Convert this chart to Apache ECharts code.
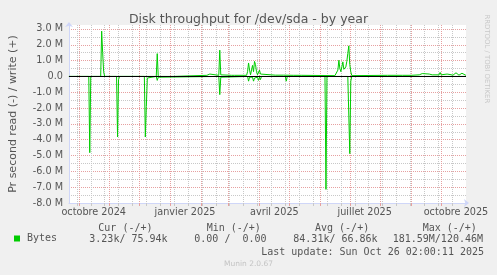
<!DOCTYPE html>
<html><head><meta charset="utf-8">
<script src="https://cdn.jsdelivr.net/npm/echarts@6/dist/echarts.min.js"></script>
<style>html,body{margin:0;padding:0;background:#f0f0f0;}#c{width:497px;height:275px;}</style>
</head><body><div id="c"></div>
<script>
const chartTitle = 'Disk throughput for /dev/sda - by year';
const yAxisTitle = 'Pr second read (-) / write (+)';
const watermark = 'RRDTOOL / TOBI OETIKER';
const footer = 'Munin 2.0.67';
const rangeStart = '2024-09-21T02:00:00Z';
const rangeEnd = '2025-10-26T02:00:00Z';
const frMonths = ['janvier','février','mars','avril','mai','juin','juillet','août','septembre','octobre','novembre','décembre'];
const xLabelDates = ['2024-10-16','2025-01-16','2025-04-16','2025-07-16','2025-10-16'];
const monthStarts = ['2024-10-01','2024-11-01','2024-12-01','2025-01-01','2025-02-01','2025-03-01','2025-04-01','2025-05-01','2025-06-01','2025-07-01','2025-08-01','2025-09-01','2025-10-01'];
const biweeklyLines = ['2024-09-29','2024-10-13','2024-10-27','2024-11-10','2024-11-24','2024-12-08','2024-12-22','2025-01-05','2025-01-19','2025-02-02','2025-02-16','2025-03-02','2025-03-16','2025-03-30','2025-04-13','2025-04-27','2025-05-11','2025-05-25','2025-06-08','2025-06-22','2025-07-06','2025-07-20','2025-08-03','2025-08-17','2025-08-31','2025-09-14','2025-09-28','2025-10-12'];

// write (+) in M bytes/s
const writeDates = ['2024-09-21','2024-10-23','2024-10-24','2024-10-25','2024-10-26','2024-10-27','2024-12-18','2024-12-19','2024-12-20','2025-01-04','2025-01-05','2025-02-07','2025-02-08','2025-02-09','2025-02-10','2025-02-11','2025-02-19','2025-02-20','2025-02-21','2025-02-22','2025-03-04','2025-03-05','2025-03-06','2025-03-07','2025-03-19','2025-03-20','2025-03-21','2025-03-22','2025-03-23','2025-03-24','2025-03-25','2025-03-26','2025-03-27','2025-03-28','2025-03-29','2025-03-30','2025-03-31','2025-04-01','2025-04-02','2025-04-03','2025-04-17','2025-04-18','2025-04-19','2025-04-25','2025-04-27','2025-05-05','2025-05-13','2025-06-16','2025-06-17','2025-06-18','2025-06-19','2025-06-20','2025-06-21','2025-06-22','2025-06-23','2025-06-24','2025-06-25','2025-06-26','2025-06-27','2025-06-28','2025-06-29','2025-06-30','2025-07-01','2025-07-02','2025-07-03','2025-08-08','2025-08-23','2025-09-01','2025-09-02','2025-09-09','2025-09-11','2025-09-12','2025-09-13','2025-09-14','2025-09-19','2025-09-22','2025-09-29','2025-09-30','2025-10-01','2025-10-07','2025-10-10','2025-10-13','2025-10-16','2025-10-19','2025-10-22','2025-10-23','2025-10-24','2025-10-26'];
const writeMB = [0,0,2.86,1.5,0.3,0,0,1.44,0,0,0.07,0.07,0.15,0.09,0.15,0.07,0.07,1.66,0.1,0.07,0.07,0.15,0.12,0.07,0.07,0.3,0.85,0.4,0.1,0.2,0.7,0.3,0.95,0.75,0.3,0.1,0.2,0.4,0.15,0.08,0.08,0.17,0.08,0.08,0.04,0.07,0.07,0.05,0.06,0.1,0.4,1.02,0.5,0.3,0.6,0.92,0.45,0.35,0.6,0.95,1.45,1.93,0.75,0.3,0.05,0.07,0.07,0.07,0.1,0.1,0.22,0.18,0.2,0.1,0.15,0.1,0.1,0.25,0.1,0.15,0.12,0.08,0.23,0.08,0.2,0.18,0.08,0.07];

// read (-) in M bytes/s
const readDates = ['2024-09-21','2024-10-11','2024-10-12','2024-10-13','2024-11-08','2024-11-09','2024-11-10','2024-11-11','2024-12-06','2024-12-07','2024-12-08','2024-12-09','2024-12-10','2024-12-18','2024-12-19','2024-12-20','2024-12-21','2025-02-19','2025-02-20','2025-02-21','2025-02-22','2025-03-20','2025-03-21','2025-03-22','2025-03-23','2025-03-25','2025-03-26','2025-03-27','2025-03-28','2025-03-30','2025-03-31','2025-04-01','2025-04-02','2025-04-03','2025-04-27','2025-04-28','2025-04-29','2025-06-06','2025-06-07','2025-06-08','2025-06-29','2025-06-30','2025-07-01','2025-07-02','2025-07-03','2025-09-29','2025-09-30','2025-10-01','2025-10-26'];
const readMB = [0,0,4.82,0,0,3.83,0.2,0,0,3.83,1.9,0.1,0,0,0.25,0.05,0,0,1.15,0.05,0,0,0.3,0.05,0,0.05,0.3,0.1,0.02,0.05,0.25,0.05,0.2,0,0,0.3,0,0,7.14,0,0,0.1,4.88,0.3,0,0,0.12,0,0];

const legendHeaders = ['Cur (-/+)','Min (-/+)','Avg (-/+)','Max (-/+)'];
const legendValues = ['3.23k/ 75.94k','0.00 /  0.00','84.31k/ 66.86k','181.59M/120.46M'];
const lastUpdate = 'Last update: Sun Oct 26 02:00:11 2025';

const ts = s => Date.parse(s + 'T00:00:00Z');
const tMin = Date.parse(rangeStart), tMax = Date.parse(rangeEnd);
const RED = '#e6a0a0', GREY = '#c8c8c8', AXIS = '#CFD6F8', FONT = '#555555', GREEN = '#00cc00';
const sans = 'DejaVu Sans', mono = 'DejaVu Sans Mono';

const headerX = [98.3, 206.7, 315, 422.7];
const valueX = [89.3, 194.3, 293.3, 392.7];
const graphics = [];
legendHeaders.forEach((t,i)=>graphics.push({type:'text', x:headerX[i], y:228, style:{text:t, font:'10px "'+mono+'"', fill:FONT, align:'left', verticalAlign:'middle'}}));
legendValues.forEach((t,i)=>graphics.push({type:'text', x:valueX[i], y:239.5, style:{text:t, font:'10px "'+mono+'"', fill:FONT, align:'left', verticalAlign:'middle'}}));
graphics.push({type:'text', x:484, y:252, style:{text:lastUpdate, font:'10px "'+mono+'"', fill:FONT, align:'right', verticalAlign:'middle'}});
graphics.push({type:'text', x:248.5, y:264.5, style:{text:footer, font:'7.5px "'+sans+'"', fill:'#c4c4c4', align:'center', verticalAlign:'middle'}});
graphics.push({type:'text', x:486.5, y:14.5, rotation:-Math.PI/2, style:{text:watermark, font:'6.9px "'+sans+'"', fill:'#c8c8c8', align:'left', verticalAlign:'middle'}});

const chart = echarts.init(document.getElementById('c'), null, {renderer:'canvas'});
chart.setOption({
  animation:false,
  backgroundColor:'#f0f0f0',
  title:{text:chartTitle, left:'center', top:12, padding:0, textStyle:{fontFamily:sans, fontSize:12.5, fontWeight:'normal', color:FONT, lineHeight:15}},
  legend:{data:['Bytes'], left:14, top:233.5, icon:'rect', itemWidth:6, itemHeight:6, padding:0, selectedMode:false,
    textStyle:{fontFamily:mono, fontSize:10, color:FONT, padding:[0,0,0,2]}},
  grid:{left:66, right:31, top:25, bottom:72, show:true, backgroundColor:'#ffffff', borderWidth:0},
  graphic:graphics,
  xAxis:[{
    type:'value', min:tMin, max:tMax, position:'bottom', scale:true,
    axisLine:{show:true, onZero:false, lineStyle:{color:AXIS, width:1}, symbol:['none','arrow'], symbolSize:[6,5], symbolOffset:[0,3]},
    axisTick:{show:true, customValues:monthStarts.map(ts), length:3, lineStyle:{color:RED}},
    axisLabel:{customValues:xLabelDates.map(ts), margin:4, fontFamily:sans, fontSize:9.7, color:FONT, hideOverlap:false,
      formatter:v=>{const d=new Date(v); return frMonths[d.getUTCMonth()]+' '+d.getUTCFullYear();}},
    splitLine:{show:true, lineStyle:{color:RED, type:[1,1], width:1}}
  },{
    type:'value', min:tMin, max:tMax, position:'bottom', scale:true,
    axisLine:{show:false, onZero:false},
    axisTick:{show:true, customValues:biweeklyLines.map(ts), length:3, lineStyle:{color:GREY}},
    axisLabel:{show:false},
    splitLine:{show:true, lineStyle:{color:GREY, type:[1,1], width:1}}
  }],
  yAxis:{
    type:'value', min:-8, max:3.25, interval:0.5,
    name:yAxisTitle, nameLocation:'middle', nameGap:50,
    nameTextStyle:{fontFamily:sans, fontSize:11, color:FONT},
    axisLine:{show:true, onZero:false, lineStyle:{color:AXIS, width:1}, symbol:['none','arrow'], symbolSize:[6,5], symbolOffset:[0,3]},
    axisTick:{show:false},
    axisLabel:{margin:6, fontFamily:sans, fontSize:9.7, color:FONT, showMaxLabel:false,
      formatter:v=>{ if (Math.abs(v - Math.round(v))>1e-9) return ''; if (v===0) return '0.0'; return v.toFixed(1)+' M'; }},
    splitLine:{show:true, showMaxLine:false, lineStyle:{color:[RED,GREY], type:[1,1], width:1}}
  },
  series:[
    {name:'Bytes', type:'line', xAxisIndex:0, symbol:'none', showSymbol:false, lineStyle:{color:GREEN, width:1}, itemStyle:{color:GREEN},
      data:readDates.map((d,i)=>[ts(d), -readMB[i]])},
    {name:'Bytes', type:'line', xAxisIndex:0, symbol:'none', showSymbol:false, lineStyle:{color:GREEN, width:1}, itemStyle:{color:GREEN},
      data:writeDates.map((d,i)=>[ts(d), writeMB[i]])},
    {name:'zero', type:'line', xAxisIndex:0, data:[], symbol:'none',
      markLine:{silent:true, symbol:'none', label:{show:false}, lineStyle:{color:'#000000', width:1, type:'solid'}, data:[{yAxis:0}]}}
  ]
});
</script></body></html>
